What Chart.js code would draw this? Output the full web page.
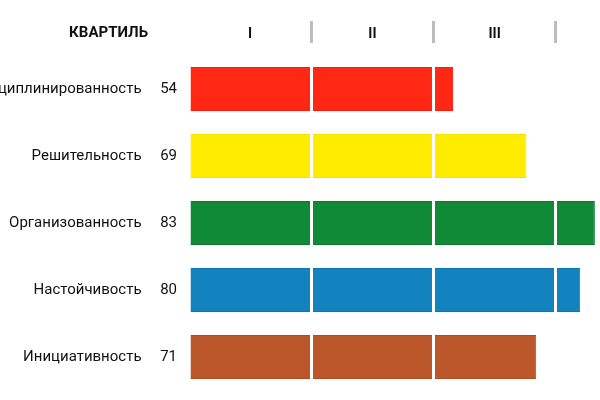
<!DOCTYPE html>
<html>
<head>
<meta charset="utf-8">
<script src="https://cdn.jsdelivr.net/npm/chart.js@4"></script>
<style>
  html, body { margin: 0; padding: 0; background: #fff; overflow: hidden; }
  #wrap { position: absolute; left: -40px; top: 0; width: 740px; height: 400px; }
</style>
</head>
<body>
<div id="wrap"><canvas id="chart"></canvas></div>
<script>
const traits = ['Дисциплинированность', 'Решительность', 'Организованность', 'Настойчивость', 'Инициативность'];
const scores = [54, 69, 83, 80, 71];
const barColors = ['#ff2814', '#ffec00', '#118a37', '#1283bf', '#bb572b'];
const borderColors = ['#ff1a0a', '#f5e300', '#0b7a2e', '#0e76b0', '#b04c22'];
const quartiles = ['I', 'II', 'III', 'IV'];
const quartileCenters = [12.5, 37.5, 62.5, 87.5];
const headerText = 'КВАРТИЛЬ';

Chart.defaults.font.family = 'Roboto';

// header "КВАРТИЛЬ" to the left of the quartile labels
const headerPlugin = {
    id: 'header',
    afterDraw(chart) {
        const c = chart.ctx;
        c.save();
        c.font = 'bold 15px Roboto';
        c.fillStyle = '#111';
        c.textAlign = 'right';
        c.textBaseline = 'middle';
        c.fillText(headerText, 188, 33);
        c.restore();
    }
};

const ctx = document.getElementById('chart').getContext('2d');
const chart = new Chart(ctx, {
    type: 'bar',
    data: {
        labels: traits.map((t, i) => t + '     ' + scores[i]),
        datasets: [{
            data: scores,
            backgroundColor: barColors,
            borderColor: borderColors,
            borderWidth: 1,
            categoryPercentage: 1,
            barPercentage: 0.66
        }]
    },
    options: {
        indexAxis: 'y',
        responsive: true,
        maintainAspectRatio: false,
        animation: false,
        layout: { padding: { top: 0, right: 22, bottom: 9.5, left: 0 } },
        plugins: { legend: { display: false }, tooltip: { enabled: false } },
        scales: {
            x: {
                type: 'linear',
                position: 'top',
                min: 0,
                max: 100,
                weight: 0,
                afterFit: scale => { scale.height = 12.5; },
                ticks: { display: false, stepSize: 25 },
                border: { display: false },
                grid: {
                    z: 1,
                    lineWidth: 3,
                    drawTicks: false,
                    color: c => (c.tick && c.tick.value === 0) ? 'rgba(0,0,0,0)' : '#ffffff'
                }
            },
            xq: {
                type: 'linear',
                position: 'top',
                min: 0,
                max: 100,
                weight: 1,
                afterFit: scale => { scale.height = 43; },
                afterBuildTicks: scale => { scale.ticks = quartileCenters.map(v => ({ value: v })); },
                ticks: {
                    padding: -22,
                    color: '#111',
                    font: { size: 14, weight: 'bold' },
                    callback: (v, i) => quartiles[i]
                },
                border: { display: false },
                grid: {
                    offset: true,
                    drawOnChartArea: false,
                    tickLength: 22,
                    lineWidth: 3,
                    tickColor: c => c.index === 0 ? 'rgba(0,0,0,0)' : '#bdbdbd'
                }
            },
            y: {
                afterFit: scale => {
                    scale.width = 229;
                    // label padding should not eat into the plot height
                    scale.paddingTop = 0;
                    scale.paddingBottom = 0;
                },
                grid: { display: false, drawTicks: false },
                border: { display: false },
                ticks: { padding: 12, color: '#111', font: { size: 15 } }
            }
        }
    },
    plugins: [headerPlugin]
});
</script>
</body>
</html>
